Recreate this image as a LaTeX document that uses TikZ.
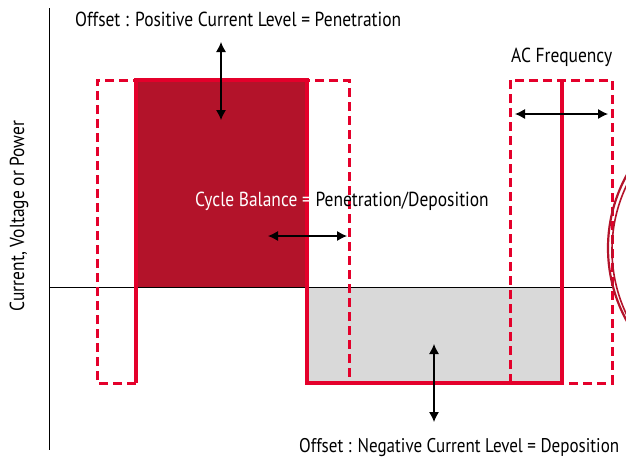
\documentclass[tikz,border=0pt]{standalone}
\usepackage{fontspec}
\setmainfont{PT Sans}[FakeStretch=0.86]
\usepackage{tikz}
\usetikzlibrary{arrows.meta,positioning,calc}

\definecolor{wred}{RGB}{228,0,43}
\definecolor{wdark}{RGB}{179,19,42}
\definecolor{wgrey}{RGB}{217,217,217}

\tikzset{
  wave/.style={wred,line width=4pt},
  wavedash/.style={wred,line width=3pt,dash pattern=on 9pt off 5pt},
  dbl/.style={black,line width=1.1pt,{Latex[length=10pt,width=10pt]}-{Latex[length=10pt,width=10pt]}},
  lbl/.style={inner sep=0pt,font=\fontsize{20.3}{22}\selectfont}
}

\begin{document}
\begin{tikzpicture}[x=1pt,y=-1pt]
      \useasboundingbox (0,0) rectangle (626,458);

      % fills
      \fill[wgrey] (307,287) rectangle (562,383);
      \fill[wdark] (136,80) rectangle (307,287);

      % axes
      \draw[black,line width=1pt] (49,8) -- (49,450);
      \draw[black,line width=1pt] (49,287) -- (613,287);

      % dashed waveform
      \draw[wavedash] (136,383) -- (97,383) -- (97,80) -- (349,80) -- (349,383) -- (510,383);
      \draw[wavedash] (510,383) -- (510,80) -- (612,80) -- (612,383) -- (562,383);

      % solid waveform
      \draw[wave] (136,383) -- (136,80) -- (307,80) -- (307,383) -- (562,383) -- (562,80);

      % cut circle on the right
      \begin{scope}
        \clip (0,0) rectangle (626,458);
        \draw[wdark,line width=2.2pt] (759,248) circle (151);
        \draw[wdark,line width=1.6pt] (762,250) circle (150);
      \end{scope}

      % arrows
      \coordinate (pu) at (221,42);
      \coordinate (pd) at (221,120);
      \coordinate (bl) at (268,236);
      \coordinate (br) at (347,236);
      \coordinate (fl) at (515,114);
      \coordinate (fr) at (608,114);
      \coordinate (nu) at (434,344);
      \coordinate (nd) at (434,422);
      \draw[dbl] (pu) -- (pd);
      \draw[dbl] (bl) -- (br);
      \draw[dbl] (fl) -- (fr);
      \draw[dbl] (nu) -- (nd);

      % labels
      \node[lbl,anchor=base west] (offpos) at (75,26) {Offset : Positive Current Level = Penetration};
      \node[lbl,anchor=base west] (acfreq) at (511,62) {AC Frequency};
      \node[lbl,anchor=base west] (balance) at (195,206) {\textcolor{white}{Cycle Balance =} Penetration/Deposition};
      \node[lbl,anchor=base west,font=\fontsize{19.8}{22}\selectfont] (offneg) at (299,452) {Offset : Negative Current Level = Deposition};
      \node[lbl,rotate=90] (ylabel) at (19,216) {Current, Voltage or Power};
\end{tikzpicture}
\end{document}
